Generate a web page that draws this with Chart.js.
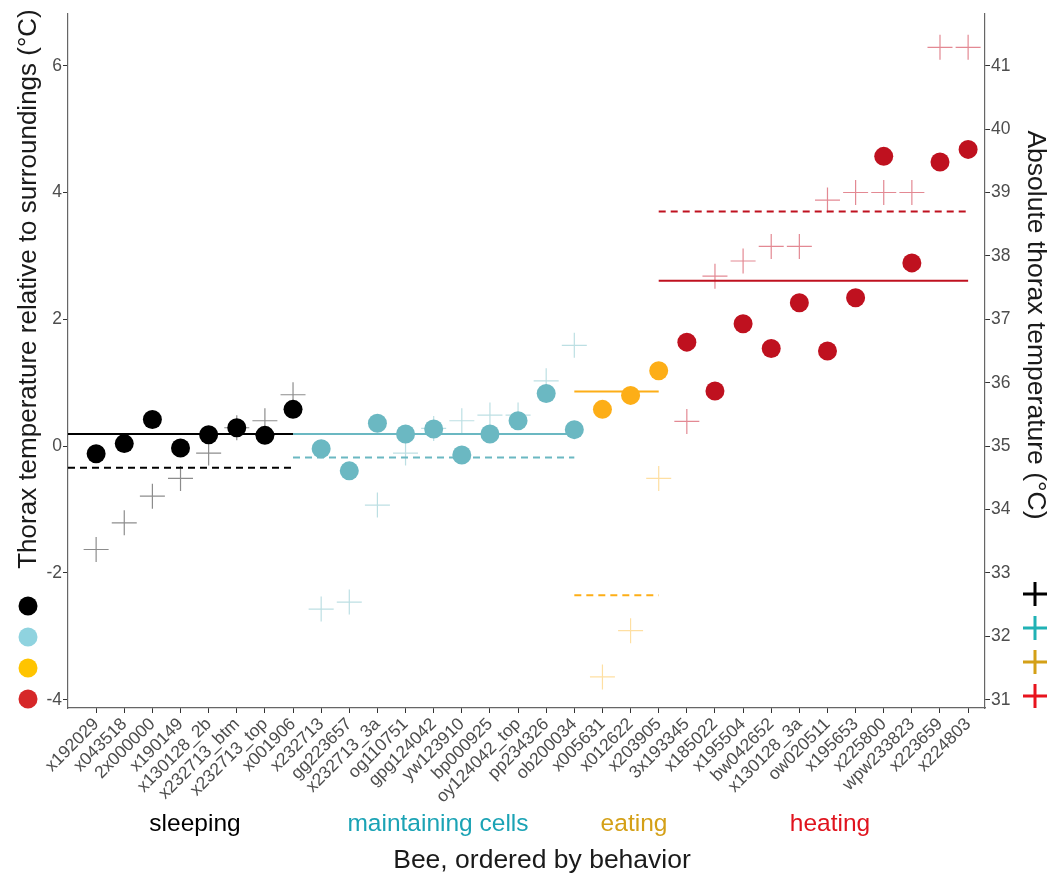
<!DOCTYPE html>
<html>
<head>
<meta charset="utf-8">
<script src="https://cdn.jsdelivr.net/npm/chart.js@4.4.1/dist/chart.umd.min.js"></script>
<style>
  html, body { margin: 0; padding: 0; background: #fff; }
  #wrap { width: 1064px; height: 874px; }
</style>
</head>
<body>
<div id="wrap"><canvas id="c" width="1064" height="874"></canvas></div>
<script>
'use strict';

// ── Data ─────────────────────────────────────────────────────────────
const bees = [
  'x192029','x043518','2x000000','x190149','x130128_2b','x232713_btm','x232713_top','x001906',
  'x232713','gg223657','x232713_3a','og110751','gpg124042','yw123910','bp000925','oy124042_top','pp234326','ob200034',
  'x005631','x012622','x203905',
  '3x193345','x185022','x195504','bw042652','x130128_3a','ow020511','x195653','x225800','wpw233823','x223659','x224803'
];
const behaviors  = ['sleeping', 'maintaining cells', 'eating', 'heating'];
const groupFirst = [0, 8, 18, 21];
const groupLast  = [7, 17, 20, 31];
const lineStart  = [-1, 7, 17, 20];

// thorax temp relative to surroundings (left axis)
const relTemp = [
  -0.12, 0.04, 0.42, -0.03, 0.18, 0.29, 0.17, 0.58,
  -0.04, -0.39, 0.36, 0.19, 0.27, -0.14, 0.19, 0.40, 0.83, 0.26,
  0.58, 0.80, 1.19,
  1.64, 0.87, 1.93, 1.54, 2.26, 1.50, 2.34, 4.57, 2.89, 4.48, 4.68
];
// absolute thorax temp (right axis)
const absTemp = [
  33.37, 33.79, 34.21, 34.49, 34.89, 35.29, 35.40, 35.81,
  32.43, 32.54, 34.07, 34.89, 35.28, 35.40, 35.49, 35.49, 36.03, 36.59,
  31.36, 32.09, 34.49,
  35.39, 37.68, 37.92, 38.15, 38.15, 38.88, 39.00, 39.00, 39.00, 41.29, 41.29
];
const relMean = [0.19, 0.19, 0.86, 2.61];
const absMean = [34.66, 34.82, 32.65, 38.70];

const leftTicks  = [-4, -2, 0, 2, 4, 6];
const rightTicks = [31, 32, 33, 34, 35, 36, 37, 38, 39, 40, 41];

// ── Styles ───────────────────────────────────────────────────────────
const dotColor   = ['#000000', '#6bb8c2', '#fdae17', '#bf111f'];
const crossColor = ['rgba(0,0,0,0.45)', 'rgba(107,184,194,0.45)', 'rgba(253,174,23,0.4)', 'rgba(200,20,40,0.5)'];
const labelColor = ['#000000', '#1ba3b5', '#d4a017', '#e0131d'];
const legDots    = ['#000000', '#8fd3df', '#ffc400', '#d62728'];
const legCross   = ['#000000', '#20b2b5', '#d4a017', '#e8131d'];
const FONT = "'Liberation Sans', Arial, sans-serif";
const TICK = { size: 17.5, family: FONT };

const datasets = [];
behaviors.forEach((b, g) => {
  const idx = [];
  for (let i = groupFirst[g]; i <= groupLast[g]; i++) idx.push(i);
  datasets.push({
    type: 'scatter', label: b + ' abs', yAxisID: 'y2', order: 3,
    data: idx.map(i => ({ x: i, y: absTemp[i] })),
    pointStyle: 'cross', pointRadius: 12.5, borderColor: crossColor[g], borderWidth: 1.2,
    backgroundColor: crossColor[g]
  });
  datasets.push({
    type: 'line', label: b + ' abs mean', yAxisID: 'y2', order: 2,
    data: [{ x: lineStart[g], y: absMean[g] }, { x: groupLast[g], y: absMean[g] }],
    borderColor: dotColor[g], borderWidth: 2, borderDash: [7, 5], pointRadius: 0, fill: false
  });
  datasets.push({
    type: 'line', label: b + ' rel mean', yAxisID: 'y', order: 2,
    data: [{ x: lineStart[g], y: relMean[g] }, { x: groupLast[g], y: relMean[g] }],
    borderColor: dotColor[g], borderWidth: 2, pointRadius: 0, fill: false
  });
  datasets.push({
    type: 'scatter', label: b, yAxisID: 'y', order: 1,
    data: idx.map(i => ({ x: i, y: relTemp[i] })),
    pointStyle: 'circle', pointRadius: 9.5, borderWidth: 0,
    backgroundColor: dotColor[g], borderColor: dotColor[g]
  });
});

// ── Extra text + key glyphs ─────────────────────────────────────────
const decor = {
  id: 'decor',
  afterDraw(chart) {
    const ctx = chart.ctx;
    ctx.save();
    ctx.textBaseline = 'middle';
    ctx.textAlign = 'center';

    // behavior labels under the bee names
    const labX = [195, 438, 634, 830];
    ctx.font = `24.5px ${FONT}`;
    behaviors.forEach((b, g) => {
      ctx.fillStyle = labelColor[g];
      ctx.fillText(b, labX[g], 824);
    });

    ctx.fillStyle = '#1a1a1a';
    ctx.font = `26.5px ${FONT}`;
    ctx.fillText('Bee, ordered by behavior', 542, 861);

    ctx.save();
    ctx.translate(1035, 325);
    ctx.rotate(Math.PI / 2);
    ctx.fillText('Absolute thorax temperature (°C)', 0, 0);
    ctx.restore();

    ctx.font = `26px ${FONT}`;
    ctx.save();
    ctx.translate(29, 289);
    ctx.rotate(-Math.PI / 2);
    ctx.fillText('Thorax temperature relative to surroundings (°C)', 0, 0);
    ctx.restore();

    // left key: dots
    legDots.forEach((c, k) => {
      ctx.beginPath();
      ctx.fillStyle = c;
      ctx.arc(28, 606 + k * 31, 9.5, 0, Math.PI * 2);
      ctx.fill();
    });
    // right key: crosses
    ctx.lineWidth = 3;
    legCross.forEach((c, k) => {
      const cy = 594 + k * 34;
      ctx.strokeStyle = c;
      ctx.beginPath();
      ctx.moveTo(1023, cy); ctx.lineTo(1047, cy);
      ctx.moveTo(1035, cy - 12); ctx.lineTo(1035, cy + 12);
      ctx.stroke();
    });
    ctx.restore();
  }
};

const axisBorder = { display: true, color: '#666', width: 1.2 };
const axisGrid = { drawOnChartArea: false, drawTicks: true, tickLength: 5, color: '#333', lineWidth: 1 };

new Chart(document.getElementById('c').getContext('2d'), {
  data: { datasets },
  options: {
    responsive: false, animation: false,
    layout: { padding: { top: 8, left: 0, right: 0, bottom: 0 } },
    plugins: { legend: { display: false }, tooltip: { enabled: false } },
    scales: {
      x: {
        type: 'linear', position: 'bottom', min: -1, max: 31.6,
        afterBuildTicks: s => { s.ticks = bees.map((b, i) => ({ value: i })); },
        afterFit: s => { s.height = 166; },
        ticks: { callback: v => bees[v], autoSkip: false, minRotation: 45, maxRotation: 45,
                 font: TICK, color: '#4d4d4d', padding: 1 },
        grid: axisGrid, border: axisBorder
      },
      y: {
        type: 'linear', position: 'left', min: -4.13, max: 6.82,
        afterBuildTicks: s => { s.ticks = leftTicks.map(v => ({ value: v })); },
        afterFit: s => { s.width = 68; },
        ticks: { font: TICK, color: '#4d4d4d', padding: 1 },
        grid: axisGrid, border: axisBorder
      },
      y2: {
        type: 'linear', position: 'right', min: 30.87, max: 41.82,
        afterBuildTicks: s => { s.ticks = rightTicks.map(v => ({ value: v })); },
        afterFit: s => { s.width = 79; },
        ticks: { font: TICK, color: '#4d4d4d', padding: 1 },
        grid: axisGrid, border: axisBorder
      }
    }
  },
  plugins: [decor]
});
</script>
</body>
</html>
